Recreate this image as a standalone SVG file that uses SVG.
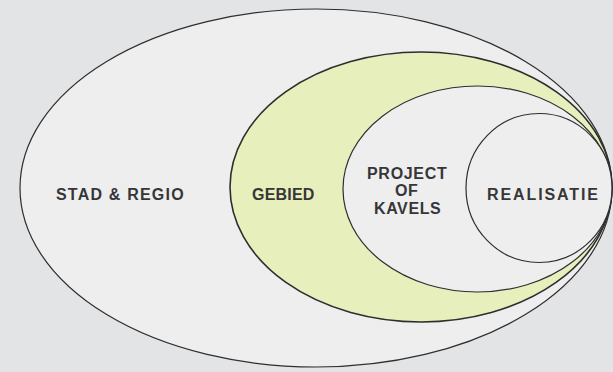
<svg xmlns="http://www.w3.org/2000/svg" width="613" height="372" viewBox="0 0 613 372">
  <style>
    .ring { stroke: #2e2e2e; stroke-width: 1.2; fill: #eeeeef; }
    .gebied { fill: #e7efbd; stroke: #2e2e2e; stroke-width: 1.6; }
    .lbl { font-family: "Liberation Sans", Arial, sans-serif; font-weight: bold; font-size: 16px; fill: #363638; }
  </style>
  <rect x="0" y="0" width="613" height="372" fill="#e3e4e6"/>
  <g id="stad-regio">
    <ellipse class="ring" cx="316" cy="188" rx="296" ry="179"/>
    <text class="lbl" x="56" y="200" letter-spacing="1.2">STAD &amp; REGIO</text>
  </g>
  <g id="gebied">
    <ellipse class="gebied" cx="421" cy="187" rx="191" ry="135"/>
    <text class="lbl" x="252" y="200" letter-spacing="0.2">GEBIED</text>
  </g>
  <g id="project-of-kavels">
    <ellipse class="ring" cx="477.5" cy="189" rx="134.5" ry="103"/>
    <text class="lbl" x="367" y="179" letter-spacing="0.7">PROJECT</text>
    <text class="lbl" x="395" y="195.5" font-size="11.5" letter-spacing="0.6">OF</text>
    <text class="lbl" x="374" y="213.5" letter-spacing="0.6">KAVELS</text>
  </g>
  <g id="realisatie">
    <ellipse class="ring" cx="539" cy="188" rx="73" ry="74.5"/>
    <text class="lbl" x="487" y="200" letter-spacing="1.9">REALISATIE</text>
  </g>
</svg>
